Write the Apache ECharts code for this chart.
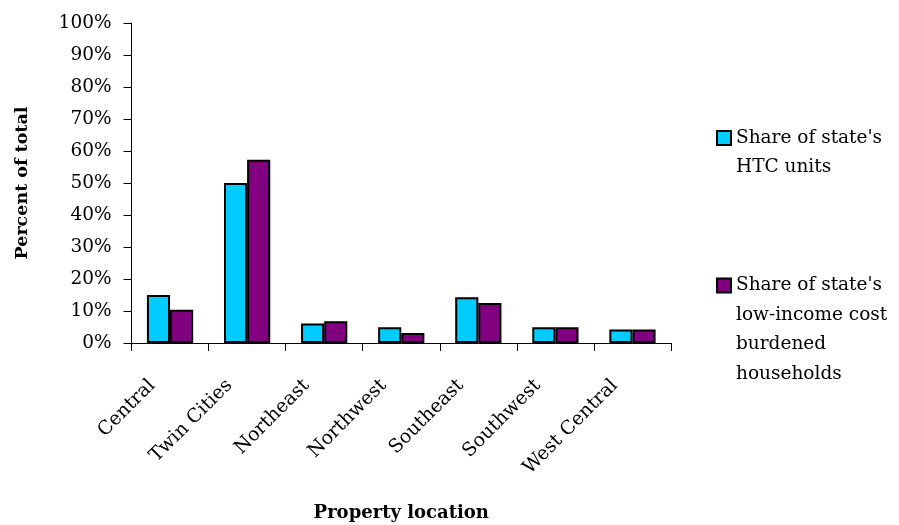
<!DOCTYPE html>
<html>
<head>
<meta charset="utf-8">
<script src="https://cdn.jsdelivr.net/npm/echarts@6/dist/echarts.min.js"></script>
<style>html,body{margin:0;padding:0;background:#fff;}#chart{width:899px;height:525px;}</style>
</head>
<body>
<div id="chart"></div>
<script>
var categories = ['Central', 'Twin Cities', 'Northeast', 'Northwest', 'Southeast', 'Southwest', 'West Central'];
var htcUnits = [15.0, 50.0, 6.1, 4.9, 14.3, 4.9, 4.2];
var costBurdened = [10.4, 57.3, 6.8, 3.1, 12.5, 4.9, 4.2];
var seriesNames = ["Share of state's HTC units", "Share of state's low-income cost burdened households"];
var legendText = {};
legendText[seriesNames[0]] = "\nShare of state's\nHTC units";
legendText[seriesNames[1]] = "\n\n\nShare of state's\nlow-income cost\nburdened\nhouseholds";

var FONT = 'DejaVu Serif';
var chart = echarts.init(document.getElementById('chart'));
chart.setOption({
  animation: false,
  backgroundColor: '#ffffff',
  grid: { left: 131.5, right: 228, top: 23, bottom: 182, containLabel: false, outerBoundsMode: 'none' },
  legend: {
    orient: 'vertical',
    left: 716, top: 93.75, padding: 0, itemGap: 0,
    itemWidth: 14, itemHeight: 14,
    icon: 'rect',
    selectedMode: false,
    data: seriesNames,
    formatter: function (n) { return legendText[n]; },
    textStyle: { fontFamily: FONT, fontSize: 18.5, color: '#000', lineHeight: 29.5 }
  },
  xAxis: {
    type: 'category',
    data: categories,
    name: 'Property location',
    nameLocation: 'middle',
    nameGap: 161,
    nameTextStyle: { fontFamily: FONT, fontSize: 18, fontWeight: 'bold', color: '#000' },
    axisLine: { lineStyle: { color: '#000', width: 1 } },
    axisTick: { show: true, length: 8, lineStyle: { color: '#000' }, alignWithLabel: false },
    axisLabel: { rotate: 45, margin: 22, padding: [0, 25, 0, 0], fontFamily: FONT, fontSize: 19, color: '#000', interval: 0 }
  },
  yAxis: {
    type: 'value',
    min: 0, max: 100, interval: 10,
    name: 'Percent of total',
    nameLocation: 'middle',
    nameGap: 100,
    nameTextStyle: { fontFamily: FONT, fontSize: 17.5, fontWeight: 'bold', color: '#000' },
    axisLine: { show: true, lineStyle: { color: '#000', width: 1 } },
    axisTick: { show: true, length: 8, lineStyle: { color: '#000' } },
    splitLine: { show: false },
    axisLabel: { formatter: '{value}%', margin: 20, fontFamily: FONT, fontSize: 18.5, color: '#000' }
  },
  series: [
    {
      name: seriesNames[0], type: 'bar', data: htcUnits,
      barGap: '0%', barCategoryGap: '40%',
      itemStyle: { color: '#00CCFF', borderColor: '#000', borderWidth: 2 }
    },
    {
      name: seriesNames[1], type: 'bar', data: costBurdened,
      barGap: '0%', barCategoryGap: '40%',
      itemStyle: { color: '#800080', borderColor: '#000', borderWidth: 2 }
    }
  ]
});
</script>
</body>
</html>
